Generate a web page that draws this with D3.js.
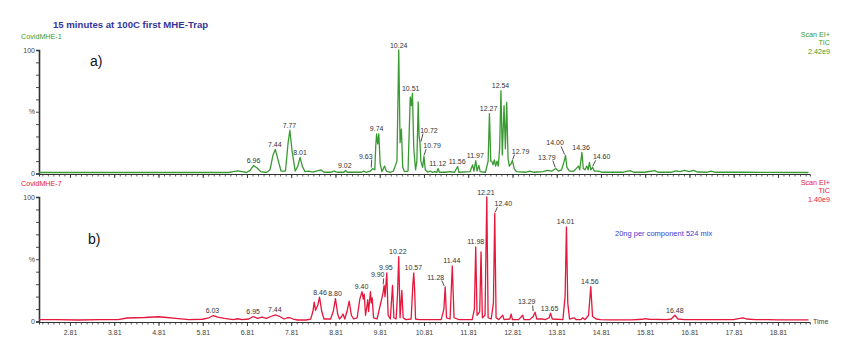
<!DOCTYPE html>
<html><head><meta charset="utf-8">
<script src="https://cdn.jsdelivr.net/npm/d3@7"></script>
<style>body{margin:0;background:#fff}svg{display:block}text{font-family:"Liberation Sans",Arial,sans-serif}</style>
</head><body><svg id="c" width="850" height="348"></svg>
<script>
// ---------- DATA ----------
const title = "15 minutes at 100C first MHE-Trap";
const sampleA = "CovidMHE-1", sampleB = "CovidMHE-7";
const infoA = ["Scan EI+", "TIC", "2.42e9"];
const infoB = ["Scan EI+", "TIC", "1.40e9"];
const note = "20ng per component 524 mix";
const xTickLabels = ["2.81","3.81","4.81","5.81","6.81","7.81","8.81","9.81","10.81","11.81","12.81","13.81","14.81","15.81","16.81","17.81","18.81"];
const yTickLabels = ["0", "%", "100"];
const timeDomain = [2.11, 19.53];

// trace a (green): retention time (min) and relative intensity (%)
const timesA = [2.11,4.0,6.4,6.5,6.6,6.7,6.8,6.88,6.96,7.04,7.12,7.25,7.33,7.40,7.45,7.52,7.58,7.68,7.74,7.78,7.83,7.9,7.96,8.01,8.06,8.12,8.2,8.3,8.48,8.55,8.7,8.78,8.85,9.0,9.04,9.08,9.4,9.45,9.5,9.6,9.65,9.7,9.72,9.74,9.765,9.79,9.82,9.86,9.92,9.96,10.05,10.12,10.2,10.24,10.27,10.30,10.33,10.37,10.45,10.50,10.525,10.55,10.58,10.62,10.65,10.68,10.70,10.72,10.74,10.78,10.81,10.84,10.9,10.95,11.0,11.05,11.1,11.13,11.16,11.3,11.4,11.5,11.57,11.6,11.85,11.91,11.94,11.98,12.01,12.05,12.08,12.2,12.26,12.29,12.32,12.34,12.37,12.40,12.43,12.46,12.49,12.52,12.55,12.58,12.62,12.65,12.68,12.71,12.74,12.78,12.81,12.85,12.9,13.1,13.2,13.3,13.5,13.6,13.7,13.79,13.85,13.92,13.98,14.01,14.04,14.1,14.2,14.25,14.30,14.33,14.38,14.41,14.45,14.49,14.52,14.55,14.58,14.62,14.66,14.75,14.85,15.3,15.47,15.55,15.8,16.03,16.1,16.4,16.5,16.6,16.7,16.8,16.9,17.0,17.2,17.3,17.4,18.0,19.5];
const valuesA = [0.8,0.8,0.8,1.5,2.2,1.5,0.8,2.5,6.5,4.5,1.5,0.8,3,15,19.5,10,2,2,25,35,18,2,6,13,6,1.5,2,1.2,3,1,1,2,1,1,2.5,1,1,2,1,2,4,3,22,32,24,32,8,1.5,6,2,1,2,10,100,25,36,5,1.5,2,62,55,65,20,3,10,58,30,25,10,5,14,3,1,2,1,1.5,1,4,1,1,1.5,1,5.7,1,1.5,7,2,10.5,2,6.5,1.5,1,10,48.5,10,10,7,11,6,10,6,20,67,15,55,20,57.5,12,6,8,10.5,4,1.5,1,2,1,1.5,2.5,2,4,2,3,10,14.6,5,2,2,4,6,3,17,4,3,6,3,9,3,5,2,2,1,1,2.3,1,1,2.3,1,1,2.2,1.5,2.5,1.5,2.5,1.2,1,2,1,1,0.8];

// trace b (red)
const timesB = [2.11,2.5,3.0,3.5,3.9,4.1,4.5,4.8,5.0,5.2,5.5,5.8,5.95,6.05,6.15,6.3,6.5,6.6,6.7,6.85,6.95,7.05,7.15,7.25,7.35,7.45,7.55,7.65,7.72,7.78,7.85,7.95,8.15,8.25,8.3,8.33,8.36,8.41,8.45,8.5,8.55,8.7,8.76,8.81,8.86,8.9,8.95,8.98,9.02,9.07,9.12,9.17,9.22,9.3,9.36,9.41,9.44,9.46,9.49,9.52,9.54,9.56,9.60,9.62,9.64,9.67,9.75,9.88,9.91,9.93,9.97,10.0,10.05,10.10,10.13,10.18,10.21,10.24,10.27,10.31,10.34,10.4,10.52,10.56,10.58,10.60,10.62,10.7,11.2,11.26,11.29,11.32,11.4,11.45,11.49,11.6,11.9,11.95,11.98,12.01,12.07,12.10,12.13,12.19,12.23,12.26,12.33,12.38,12.41,12.44,12.5,12.59,12.62,12.75,12.78,12.81,12.95,13.04,13.07,13.2,13.28,13.32,13.36,13.5,13.55,13.64,13.67,13.71,13.95,14.0,14.03,14.06,14.1,14.2,14.25,14.35,14.40,14.45,14.53,14.58,14.62,14.7,14.8,15.0,15.5,15.75,15.8,15.9,16.3,16.4,16.48,16.55,16.7,17.8,17.95,18.02,18.1,18.3,18.6,18.8,19.5];
const valuesB = [1.5,1.5,1.2,1.5,1.5,2.8,3.2,3.8,3.2,2.5,1.5,1.8,3,4.8,3.5,2.5,1.5,2.2,1.5,2,4,2.5,3.5,2.5,4,5.4,4,2,3,3,2,1.2,1.2,2,8,15.6,9,13,19.6,8,2,2,8,18.3,6,2,4,6,2,8,16.4,5,2,3,18,24,18,22,5,12,17.5,8,24,15,19,3,2,22,29,20,39,5,2,29,3,2,20,52,3,25,3,1.5,2,30,39,25,2,1.5,1.5,10,27.7,3,2,44.6,3,1.5,1.5,10,60,5,8,56,3,5,100,3,2,15,87,3,1.5,5,1.5,2,6,1.5,1.5,5,1.5,1.5,4,7.5,2,2,1.5,3,6.7,2,1.5,20,76,15,2,3,1.5,1.5,3,1.5,5,28,4,2,1.5,1.3,1.3,1.8,2.3,1.8,1.5,2,5,2,1.5,1.5,2.5,3,2,1.5,1.5,1.3,1.3];

// peak labels: text and height (%) of the apex they mark
const peakLabelsA = ["6.96","7.44","7.77","8.01","9.02","9.63","9.74","10.24","10.51","10.72","10.79","11.12","11.56","11.97","12.27","12.54","12.79","13.79","14.00","14.36","14.60"];
const peakHeightsA = [6.5,19.5,35,13,2.5,4,32.5,100,65,25,14,4,5.7,10.5,48.5,67,10.5,4,14.6,17,5];
const peakLabelsB = ["6.03","6.95","7.44","8.46","8.80","9.40","9.90","9.95","10.22","10.57","11.28","11.44","11.98","12.21","12.40","13.29","13.65","14.01","14.56","16.48"];
const peakHeightsB = [4.8,4,5.4,19.6,18.3,24,29,39,52,39,27.7,44.6,60,100,87,7.5,6.7,76,28,5];

// ---------- LAYOUT ----------
const svg = d3.select("#c");
const X0 = 39, X1 = 809.8;
const x = d3.scaleLinear().domain(timeDomain).range([X0, X1]);
const panels = [
  {times: timesA, vals: valuesA, labels: peakLabelsA, heights: peakHeightsA, y0: 173.5, y100: 50, color: "#3a9a32", textColor: "#3c9a2c",
   name: sampleA, info: infoA, infoY: 37, nameY: 39, tag: "a)", tagPos: [90, 66],
   leaders: {"9.63": [-6, -10], "10.72": [9, -10], "10.79": [9, -8], "12.79": [9, -7], "13.79": [-9, -9], "14.00": [-10, -10], "14.60": [10, -8]}},
  {times: timesB, vals: valuesB, labels: peakLabelsB, heights: peakHeightsB, y0: 321.5, y100: 197, color: "#e5173c", textColor: "#e5173c",
   name: sampleB, info: infoB, infoY: 185, nameY: 186, tag: "b)", tagPos: [88, 244],
   leaders: {"9.90": [-6, -8], "11.28": [-9, -7.5], "12.40": [9, -7], "13.29": [-7, -7.7]}}
];

svg.append("text").attr("x", 53).attr("y", 27.5).text(title)
  .attr("font-family", "'Liberation Serif', 'Times New Roman', serif").attr("font-weight", "bold")
  .attr("font-size", 9.6).attr("fill", "#35359a");

panels.forEach((p, i) => {
  const y = d3.scaleLinear().domain([0, 100]).range([p.y0, p.y100]);
  const g = svg.append("g");

  // y axis
  const ya = d3.axisLeft(y).tickValues(d3.range(0, 101, 10)).tickSize(3).tickFormat("");
  const yg = g.append("g").attr("transform", `translate(${X0},0)`).call(ya);
  yg.select(".domain").attr("stroke", "#333").attr("stroke-width", 1.6);
  yg.selectAll(".tick line").attr("stroke", "#333").attr("stroke-width", 0.9);
  [[0, yTickLabels[0]], [50, yTickLabels[1]], [100, yTickLabels[2]]].forEach(([v, t]) => {
    g.append("text").attr("x", X0 - 4).attr("y", y(v) + 2.5).attr("text-anchor", "end")
      .attr("font-size", 7).attr("fill", "#444").text(t);
  });

  // x axis
  const xa = d3.axisBottom(x).tickValues(d3.range(2.185, 19.5, 0.125)).tickSize(2.5).tickFormat("");
  const xg = g.append("g").attr("transform", `translate(0,${p.y0 + 0.5})`).call(xa);
  xg.select(".domain").attr("stroke", "#333").attr("stroke-width", 1);
  xg.selectAll(".tick line").attr("stroke", "#333").attr("stroke-width", 0.8);
  const xm = d3.axisBottom(x).tickValues(xTickLabels.map(Number)).tickSize(4)
    .tickFormat((d, k) => i === 1 ? xTickLabels[k] : "");
  const xmg = g.append("g").attr("transform", `translate(0,${p.y0 + 0.5})`).call(xm);
  xmg.select(".domain").remove();
  xmg.selectAll(".tick line").attr("stroke", "#333").attr("stroke-width", 0.9);
  xmg.selectAll(".tick text").attr("font-size", 7).attr("fill", "#444").attr("dy", "0.9em")
    .attr("font-family", "'Liberation Sans', Arial, sans-serif");

  // trace
  const pts = p.times.map((t, k) => [t, p.vals[k]]);
  g.append("path").datum(pts)
    .attr("d", d3.line().x(d => x(d[0])).y(d => y(d[1])))
    .attr("fill", "none").attr("stroke", p.color).attr("stroke-width", 1.3).attr("stroke-linejoin", "round");

  // peak labels
  p.labels.forEach((lab, k) => {
    const px = x(+lab), py = y(p.heights[k]);
    const off = p.leaders[lab];
    if (off) {
      const tx = px + off[0], ty = py + off[1];
      g.append("text").attr("x", tx).attr("y", ty).attr("text-anchor", "middle")
        .attr("font-size", 7).attr("fill", "#333").text(lab);
      const sx = off[0] > 0 ? tx - 6 : tx + 6;
      g.append("line").attr("x1", sx).attr("y1", ty + 1).attr("x2", px + (off[0] > 0 ? 1 : -0.5)).attr("y2", py - 1)
        .attr("stroke", "#222").attr("stroke-width", 0.8);
    } else {
      g.append("text").attr("x", px).attr("y", py - 2.5).attr("text-anchor", "middle")
        .attr("font-size", 7).attr("fill", "#333").text(lab);
    }
  });

  // sample name
  g.append("text").attr("x", 21).attr("y", p.nameY).attr("font-size", 7.2).attr("fill", p.textColor).text(p.name);
  // info
  p.info.forEach((s, k) => {
    g.append("text").attr("x", 830).attr("y", p.infoY + k * 8.3).attr("text-anchor", "end")
      .attr("font-size", 7.2).attr("fill", p.textColor).text(s);
  });
  // tag
  g.append("text").attr("x", p.tagPos[0]).attr("y", p.tagPos[1]).attr("font-size", 14).attr("fill", "#111").text(p.tag);
});

svg.append("text").attr("x", 813).attr("y", 324).attr("font-size", 7).attr("fill", "#444").text("Time");
svg.append("text").attr("x", 615).attr("y", 236).attr("font-size", 7.5).attr("fill", "#3a3ad0").text(note);
</script></body></html>
